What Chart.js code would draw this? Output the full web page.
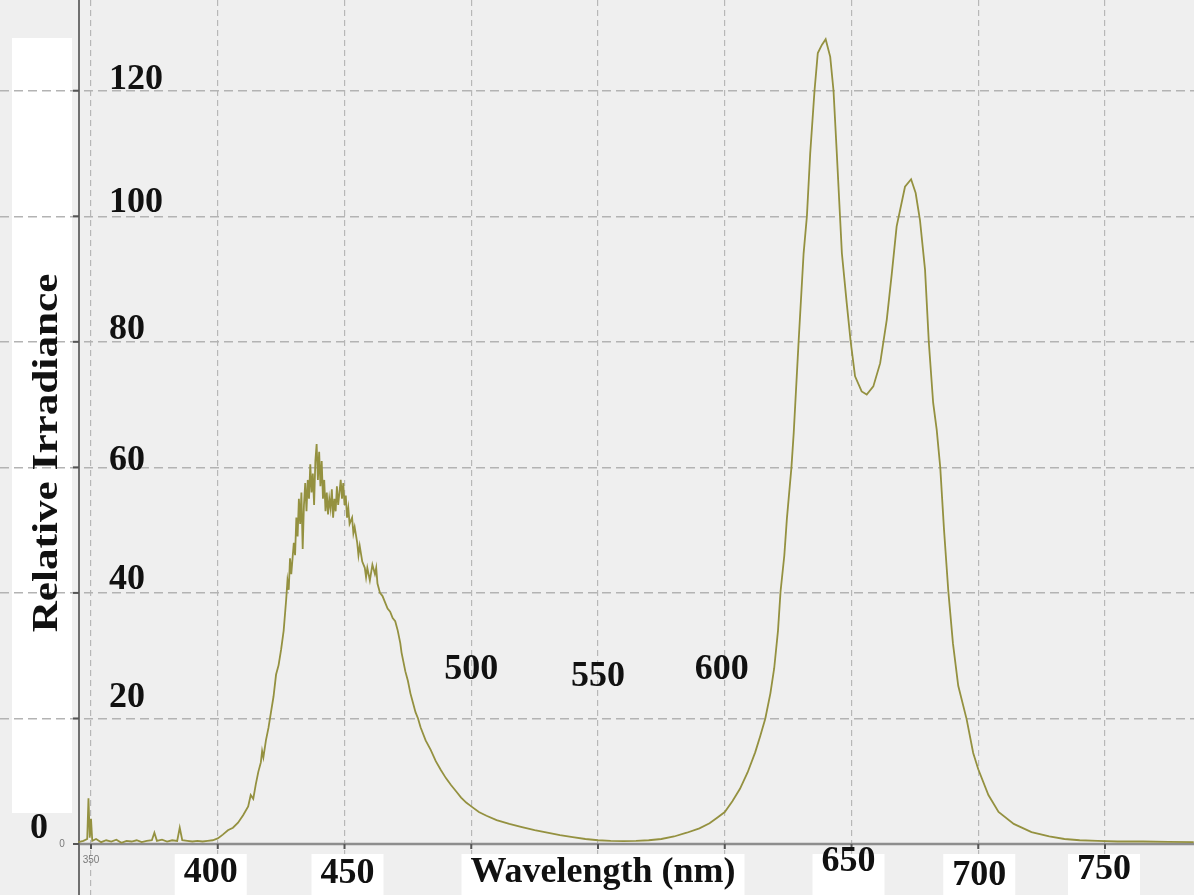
<!DOCTYPE html>
<html>
<head>
<meta charset="utf-8">
<script src="https://cdn.jsdelivr.net/npm/chart.js@4.4.0/dist/chart.umd.min.js"></script>
<style>
  html, body { margin: 0; padding: 0; background: #ffffff; }
  #wrap { width: 1194px; height: 895px; }
</style>
</head>
<body>
<div id="wrap"><canvas id="spectrum" width="1194" height="895"></canvas></div>
<script>
// spectrum (nm, relative irradiance)
const wavelengths = [
  345, 347, 348.5, 349, 349.5, 350, 350.5, 352, 354, 356, 358, 360, 362, 364, 366, 368, 370, 372, 374, 375,
  376, 378, 380, 382, 384, 385, 386, 388, 390, 392, 394, 396, 398, 400, 402, 404, 406, 408, 410, 412,
  413, 414, 415, 416, 417, 417.5, 418, 419, 420, 421, 422, 423, 424, 425, 426, 427, 427.5, 428, 428.5, 429,
  430, 430.5, 431, 431.5, 432, 432.5, 433, 433.5, 434, 434.5, 435, 435.5, 436, 436.5, 437, 437.5, 438, 438.5, 439, 439.5,
  440, 440.5, 441, 441.5, 442, 442.5, 443, 443.5, 444, 444.5, 445, 445.5, 446, 446.5, 447, 447.5, 448, 448.5, 449, 449.5,
  450, 450.5, 451, 451.5, 452, 453, 453.5, 454, 455, 455.5, 456, 457, 458, 458.5, 459, 460, 461, 462, 462.5, 463,
  464, 465, 466, 467, 468, 469, 470, 471, 472, 472.5, 473, 474, 475, 476, 477, 478, 479, 480, 482, 484,
  486, 488, 490, 492, 494, 496, 498, 500, 503, 506, 510, 515, 520, 525, 530, 535, 540, 545, 550, 555,
  560, 565, 570, 575, 580, 585, 590, 594, 597, 600, 603, 606, 609, 612, 614, 616, 618, 619.5, 621, 622,
  623.5, 624.5, 626.3, 627.2, 629.1, 631.1, 632.4, 633.7, 635.4, 636.7, 638.3, 639.8, 641.6, 642.9, 644.2, 646.2, 648.1, 649.7, 651.4, 654,
  656, 658.6, 661.3, 663.9, 665.9, 667.8, 671.1, 673.5, 675.3, 677, 679, 680.5, 682.2, 683.6, 685, 686.5, 688.2, 690, 692.1, 695.4,
  698, 700, 704, 708, 714, 721, 728, 734, 740, 747, 755, 765, 775, 785
];
const irradiance = [
  0.3, 0.5, 0.8, 7.3, 1.0, 4.0, 0.5, 0.8, 0.3, 0.6, 0.4, 0.7, 0.2, 0.5, 0.4, 0.6, 0.3, 0.5, 0.6, 1.8,
  0.5, 0.7, 0.4, 0.6, 0.5, 2.6, 0.6, 0.5, 0.4, 0.5, 0.4, 0.5, 0.6, 0.9, 1.5, 2.2, 2.6, 3.4, 4.6, 6.0,
  7.8, 7.2, 9.5, 11.5, 13.0, 14.8, 13.8, 16.5, 18.5, 21.0, 23.5, 27.0, 28.5, 31.0, 34.0, 39.0, 42.0, 40.5, 45.5, 43.0,
  48.0, 46.0, 52.0, 49.0, 55.0, 51.0, 56.0, 47.0, 54.0, 57.5, 53.0, 58.0, 55.0, 60.5, 56.0, 59.0, 54.0, 61.0, 63.7, 58.0,
  62.5, 57.0, 61.0, 55.0, 58.0, 53.0, 56.0, 52.5, 55.0, 53.5, 56.5, 52.0, 55.0, 53.0, 57.0, 54.0, 56.0, 58.0, 55.0, 57.5,
  54.0, 55.5, 52.0, 53.5, 51.0, 52.0, 49.5, 50.5, 48.0, 46.0, 47.5, 45.0, 44.0, 42.5, 44.0, 42.0, 44.5, 43.0, 44.0, 41.5,
  40.0, 39.5, 38.5, 37.5, 37.0, 36.0, 35.5, 34.0, 32.0, 30.5, 29.5, 27.5, 26.0, 24.0, 22.5, 21.0, 20.0, 18.6, 16.5, 15.0,
  13.2, 11.8, 10.5, 9.4, 8.4, 7.4, 6.6, 6.0, 5.1, 4.5, 3.8, 3.2, 2.7, 2.2, 1.8, 1.4, 1.1, 0.8, 0.6, 0.5,
  0.45, 0.5, 0.6, 0.8, 1.2, 1.8, 2.5, 3.3, 4.2, 5.1, 6.8, 8.8, 11.4, 14.6, 17.2, 20.0, 24.0, 28.0, 34.0, 40.2,
  46.0, 51.8, 60.0, 65.5, 79.8, 94.1, 100.0, 110.0, 120.0, 126.0, 127.3, 128.2, 125.4, 120.0, 110.0, 94.1, 86.2, 79.9, 74.5, 72.1,
  71.6, 72.9, 76.6, 83.5, 90.9, 98.4, 104.7, 105.9, 103.7, 99.4, 91.5, 79.9, 70.3, 66.0, 60.0, 50.0, 40.2, 32.0, 25.2, 19.9,
  14.5, 11.9, 7.8, 5.1, 3.2, 1.9, 1.2, 0.8, 0.6, 0.5, 0.4, 0.4, 0.35, 0.3
];

const xTickLabels = ["400", "450", "500", "550", "600", "650", "700", "750"];
const yTickLabels = ["0", "20", "40", "60", "80", "100", "120"];
const xTitle = "Wavelength (nm)";
const yTitle = "Relative Irradiance";

const points = wavelengths.map((w, i) => ({ x: w, y: irradiance[i] }));

const labelFont = "bold 36px 'Liberation Serif', 'Times New Roman', serif";

// where the pasted labels sit: dx from tick, centre y in px or as a y value
const xLabelPlace = {
  400: { dx: -7, py: 873 },
  450: { dx: 3, py: 874 },
  500: { dx: 0, vy: 27.7 },
  550: { dx: 0, vy: 26.6 },
  600: { dx: -3, vy: 27.7 },
  650: { dx: -3, py: 862 },
  700: { dx: 1, py: 876 },
  750: { dx: -1, py: 870 },
};
const yLabelShift = { 0: -6, 20: -11, 40: -4, 60: 3, 80: -3, 100: -4, 120: -2 };

const paperPlugin = {
  id: "paper",
  beforeDraw(chart) {
    const c = chart.ctx;
    c.save();
    c.fillStyle = "#efefef";
    c.fillRect(0, 0, chart.width, chart.height);
    // white card behind the y title
    c.fillStyle = "#ffffff";
    c.fillRect(12, 38, 60, 775);
    c.restore();
  },
  beforeDatasetsDraw(chart) {
    const c = chart.ctx;
    const xs = chart.scales.x;
    const ys = chart.scales.y;
    const y0 = ys.getPixelForValue(0);
    const axisX = 79;
    c.save();
    // x axis
    c.strokeStyle = "#8d8d8d";
    c.lineWidth = 2.5;
    c.beginPath();
    c.moveTo(axisX, y0);
    c.lineTo(chart.width, y0);
    c.stroke();
    // y axis
    c.strokeStyle = "#6f6f6f";
    c.lineWidth = 2;
    c.beginPath();
    c.moveTo(axisX, 0);
    c.lineTo(axisX, chart.height);
    c.stroke();
    // tick marks
    c.strokeStyle = "#555555";
    c.lineWidth = 2;
    xs.ticks.forEach((t) => {
      const px = xs.getPixelForValue(t.value);
      c.beginPath();
      c.moveTo(px, y0);
      c.lineTo(px, y0 + 5);
      c.stroke();
    });
    ys.ticks.forEach((t) => {
      const py = ys.getPixelForValue(t.value);
      c.beginPath();
      c.moveTo(axisX - 6, py);
      c.lineTo(axisX, py);
      c.stroke();
    });
    c.restore();
  },
  afterDraw(chart) {
    const c = chart.ctx;
    const xs = chart.scales.x;
    const ys = chart.scales.y;
    const y0 = ys.getPixelForValue(0);
    c.save();
    c.font = labelFont;
    c.textBaseline = "middle";
    c.textAlign = "center";

    // bottom labels sit on white patches
    const patch = (cx, text) => {
      const w = c.measureText(text).width + 18;
      c.fillStyle = "#ffffff";
      c.fillRect(cx - w / 2, y0 + 10, w, chart.height - y0 - 10);
    };

    xTickLabels.forEach((lab) => {
      const v = Number(lab);
      const place = xLabelPlace[v];
      const cx = xs.getPixelForValue(v) + place.dx;
      const cy = place.vy !== undefined ? ys.getPixelForValue(place.vy) : place.py;
      if (place.vy === undefined) patch(cx, lab);
      c.fillStyle = "#111111";
      c.fillText(lab, cx, cy);
    });

    const titleX = 603;
    patch(titleX, xTitle);
    c.fillStyle = "#111111";
    c.fillText(xTitle, titleX, 873);

    // y tick labels drawn inside the plot, above their grid lines
    c.textAlign = "left";
    c.textBaseline = "alphabetic";
    yTickLabels.forEach((lab) => {
      const v = Number(lab);
      const py = ys.getPixelForValue(v) + yLabelShift[v];
      const lx = v === 0 ? 30 : xs.getPixelForValue(350) + 18;
      c.fillStyle = "#111111";
      c.fillText(lab, lx, py);
    });

    // y title, a little stretched like the pasted original
    c.save();
    c.translate(48, 453);
    c.rotate(-Math.PI / 2);
    c.scale(1.2, 1);
    c.textAlign = "center";
    c.textBaseline = "middle";
    c.fillStyle = "#111111";
    c.fillText(yTitle, 0, 0);
    c.restore();

    // faint original tick labels of the instrument plot
    c.font = "10px 'Liberation Sans', Arial, sans-serif";
    c.fillStyle = "#7a7a7a";
    c.textAlign = "center";
    c.textBaseline = "middle";
    c.fillText("0", 62, y0);
    c.fillText("350", xs.getPixelForValue(350), y0 + 16);
    c.restore();
  },
};

new Chart(document.getElementById("spectrum").getContext("2d"), {
  type: "line",
  data: {
    datasets: [
      {
        label: "Relative Irradiance",
        data: points,
        borderColor: "#949140",
        borderWidth: 1.8,
        pointRadius: 0,
        tension: 0,
        fill: false,
      },
    ],
  },
  options: {
    responsive: false,
    animation: false,
    devicePixelRatio: 1,
    layout: { padding: 0 },
    plugins: {
      legend: { display: false },
      tooltip: { enabled: false },
    },
    scales: {
      x: {
        type: "linear",
        min: 314.1,
        max: 785.1,
        ticks: { display: false, stepSize: 50, includeBounds: false },
        grid: {
          color: "#b7b7b7",
          lineWidth: 1.2,
          drawTicks: false,
        },
        border: { display: false, dash: [6, 4] },
      },
      y: {
        min: -8.12,
        max: 134.45,
        ticks: { display: false, stepSize: 20, includeBounds: false },
        grid: {
          color: (ctx) => (ctx.tick && ctx.tick.value === 0 ? "rgba(0,0,0,0)" : "#b3b3b3"),
          lineWidth: 1.5,
          drawTicks: false,
        },
        border: { display: false, dash: [9, 5] },
      },
    },
  },
  plugins: [paperPlugin],
});
</script>
</body>
</html>
